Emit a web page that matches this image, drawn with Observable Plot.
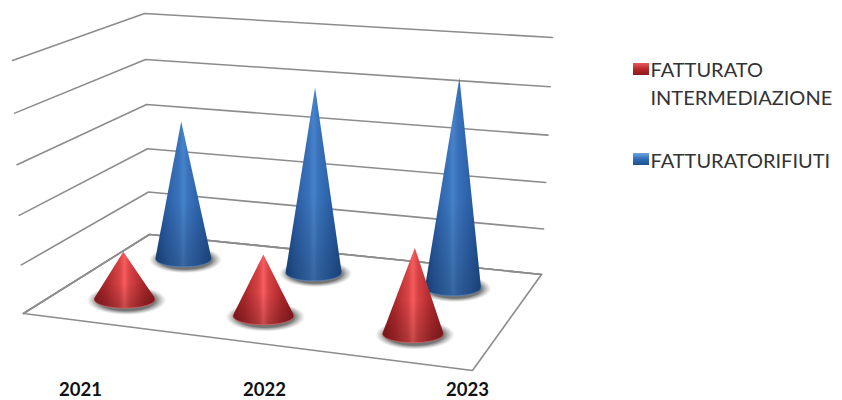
<!DOCTYPE html>
<html><head><meta charset="utf-8">
<script src="https://cdn.jsdelivr.net/npm/d3@7"></script>
<script src="https://cdn.jsdelivr.net/npm/@observablehq/plot@0.6"></script>
<style>html,body{margin:0;padding:0;background:#fff}svg{display:block}</style>
</head><body><div id="chart"></div>
<script>
// data (in gridline units)
const years = ["2021", "2022", "2023"];
const intermediazione = [1.0, 1.26, 1.72];
const rifiuti = [3.02, 3.95, 4.36];
const levels = [0, 1, 2, 3, 4, 5];
const legendLabels = ["FATTURATO\nINTERMEDIAZIONE", "FATTURATORIFIUTI"];

// layout of the 3-D box in the picture
const FL = [23, 313], FR = [472, 370], BR = [541, 274], BL = [149, 234];
const liftFL = [-11, -253], liftFR = [8, -269], liftBR = [11, -237], liftBL = [-5, -221];
const yearX = [80, 264, 467], yearY = 390;
const depthFront = 0.25, depthBack = 0.75, radiusFront = 30.5, radiusBack = 28, squash = 0.29;

const den = (FR[0]-BR[0])*(BL[1]-BR[1]) - (BL[0]-BR[0])*(FR[1]-BR[1]);
const sx = FL[0]-FR[0]+BR[0]-BL[0], sy = FL[1]-FR[1]+BR[1]-BL[1];
const G = (sx*(BL[1]-BR[1]) - (BL[0]-BR[0])*sy)/den;
const H = ((FR[0]-BR[0])*sy - sx*(FR[1]-BR[1]))/den;
function project(s, t, h = 0) {
  const w = G*s + H*t + 1;
  const px = ((FR[0]-FL[0]+G*FR[0])*s + (BL[0]-FL[0]+H*BL[0])*t + FL[0])/w;
  const py = ((FR[1]-FL[1]+G*FR[1])*s + (BL[1]-FL[1]+H*BL[1])*t + FL[1])/w;
  const k = h/5*(1 - 0.05*(5-h)/5);
  const mix = i => (1-s)*(1-t)*liftFL[i] + s*(1-t)*liftFR[i] + s*t*liftBR[i] + (1-s)*t*liftBL[i];
  return {x: px + k*mix(0), y: py + k*mix(1)};
}
const ellipse = (c, rx, ry) => d3.range(0, 73).map(i => {
  const a = i/72*2*Math.PI; return {x: c.x + rx*Math.cos(a), y: c.y + ry*Math.sin(a)};
});
function cone(i, depth, value, name, rx) {
  const s = (i+0.5)/3;
  const c = project(s, depth), tip = project(s, depth, value);
  const ry = rx*squash;
  const ux = (tip.x-c.x)/rx, uy = (tip.y-c.y)/ry, d = Math.hypot(ux, uy);
  const al = Math.atan2(uy, ux), be = Math.acos(1/d);
  const a0 = al+be, a1 = al-be+2*Math.PI;
  const arc = d3.range(0, 49).map(j => {
    const a = a0 + (a1-a0)*j/48; return {x: c.x + rx*Math.cos(a), y: c.y + ry*Math.sin(a)};
  });
  return {name, c, rx, ry, outline: [tip, ...arc], rim: arc};
}
const blue = rifiuti.map((v, i) => cone(i, depthBack, v, "blue", radiusBack));
const red = intermediazione.map((v, i) => cone(i, depthFront, v, "red", radiusFront));

const grid = levels.flatMap(l => [
  {l, ...project(0, 0, l)}, {l, ...project(0, 1, l)}, {l, ...project(1, 1, l)}
]);
const floor = [project(0,0), project(0,1), project(1,1), project(1,0), project(0,0)];

function stop(g, o, c, a = 1) { g.append("stop").attr("offset", o).attr("stop-color", c).attr("stop-opacity", a); }
function defs() {
  const d = d3.create("svg:defs");
  const lin = (id, stops, vertical) => {
    const g = d.append("linearGradient").attr("id", id).attr("x1", 0).attr("y1", 0)
      .attr("x2", vertical ? 0 : 1).attr("y2", vertical ? 1 : 0);
    stops.forEach(s => stop(g, ...s));
  };
  lin("gBlue", [[0,"#1d4b8a"],[.18,"#2a5ea6"],[.42,"#3a73bb"],[.5,"#4682cb"],[.58,"#3a73bb"],[.82,"#2a5ea6"],[1,"#1f4f90"]]);
  lin("gRed", [[0,"#8c1a1e"],[.2,"#ac282c"],[.42,"#d84345"],[.5,"#f65c5e"],[.58,"#d84345"],[.8,"#ac282c"],[1,"#8c1a1e"]]);
  lin("gDark", [[0,"#000",0],[.55,"#000",0],[1,"#000",.2]], true);
  lin("gSwRed", [[0,"#e85a5a"],[.5,"#b8282c"],[1,"#8c1a1e"]], true);
  lin("gSwBlue", [[0,"#6fa6e4"],[.5,"#2f6db8"],[1,"#1f4f90"]], true);
  const r = d.append("radialGradient").attr("id", "gShadow");
  stop(r, 0, "#444", .85); stop(r, .72, "#555", .8); stop(r, 1, "#888", 0);
  return d.node();
}
const coneMarks = c => [
  Plot.line(c.outline, {x:"x", y:"y", fill: c.name === "red" ? "url(#gRed)" : "url(#gBlue)", stroke:"none"}),
  Plot.line(c.outline, {x:"x", y:"y", fill:"url(#gDark)", stroke:"none"}),
  Plot.line(c.rim, {x:"x", y:"y", stroke: c.name === "red" ? "#e06a6a" : "#5f8fca", strokeWidth: 1, strokeOpacity: .6})
];
const shadow = c => Plot.line(ellipse({x:c.c.x+2, y:c.c.y+1}, c.rx*1.3, c.ry*1.65), {x:"x", y:"y", fill:"url(#gShadow)", stroke:"none"});

const legendRows = [
  {label: legendLabels[0], y: 56.5, y1: 63, y2: 75, fill: "url(#gSwRed)"},
  {label: legendLabels[1], y: 148, y1: 153, y2: 165, fill: "url(#gSwBlue)"}
];

const plot = Plot.plot({
  width: 842, height: 400, margin: 0,
  x: {domain: [0, 842], range: [0, 842], axis: null},
  y: {domain: [0, 400], range: [0, 400], axis: null},
  style: {background: "#fff", fontFamily: "Lato, sans-serif"},
  marks: [
    defs,
    Plot.line(grid, {x:"x", y:"y", z:"l", stroke:"#8c8c8c", strokeWidth:1.6}),
    Plot.line(floor, {x:"x", y:"y", stroke:"#8c8c8c", strokeWidth:1.6, fill:"#fff"}),
    Plot.line(grid.filter(d => d.l === 0), {x:"x", y:"y", stroke:"#8c8c8c", strokeWidth:1.6}),
    ...blue.map(shadow), ...blue.flatMap(coneMarks),
    ...red.map(shadow), ...red.flatMap(coneMarks),
    Plot.text(years, {x: (d, i) => yearX[i], y: yearY, text: d => d, fontSize: 18.5, fontWeight: 700, fill: "#111", textAnchor: "middle"}),
    Plot.rect(legendRows, {x1: 633, x2: 649, y1: "y1", y2: "y2", fill: d => d.fill}),
    Plot.text(legendRows, {x: 650, y: "y", text: "label", textAnchor: "start", lineAnchor: "top", fontSize: 20, lineHeight: 1.4, fill: "#333"})
  ]
});
document.getElementById("chart").append(plot);
</script></body></html>
